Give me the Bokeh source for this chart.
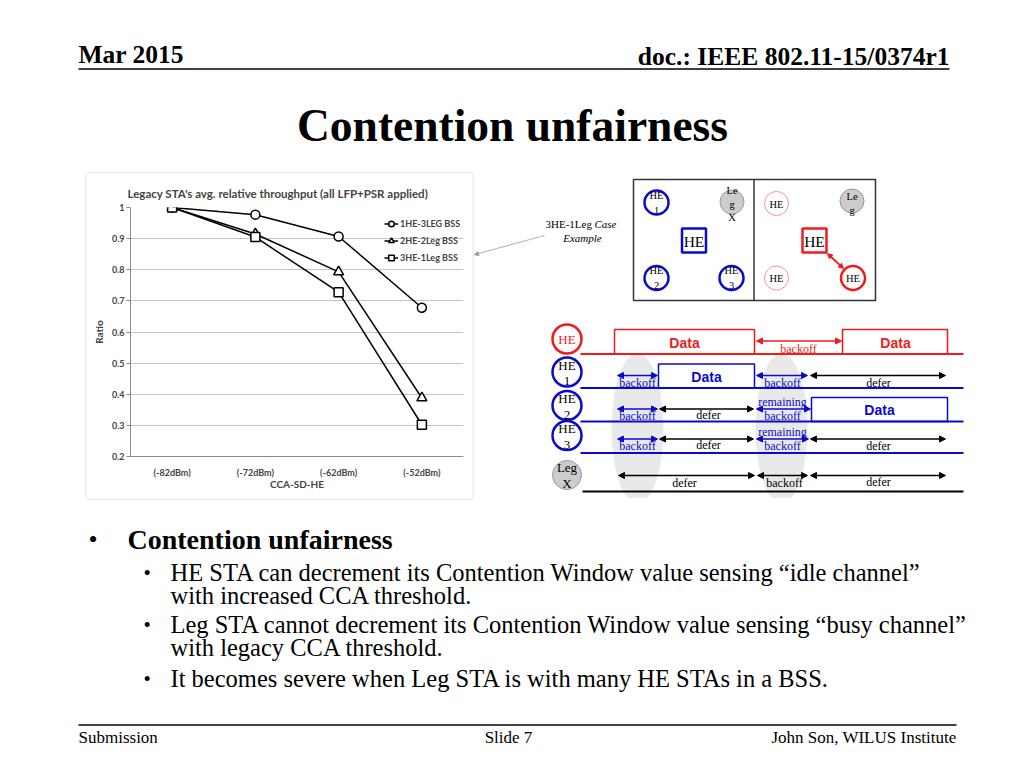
from bokeh.plotting import figure
from bokeh.models import (Range1d, FactorRange, Arrow, NormalHead, Legend, LegendItem,
                          FixedTicker, NumeralTickFormatter, Spacer)
from bokeh.layouts import column, row
from bokeh.embed import file_html
from bokeh.resources import INLINE
from bokeh.core.properties import value

# ---------------- chart data ----------------
categories = ["(-82dBm)", "(-72dBm)", "(-62dBm)", "(-52dBm)"]
series_labels = ["1HE-3LEG BSS", "2HE-2Leg BSS", "3HE-1Leg BSS"]
series_markers = ["circle", "triangle", "square"]
ratio_1he_3leg = [1.0, 0.977, 0.907, 0.678]
ratio_2he_2leg = [1.0, 0.915, 0.793, 0.388]
ratio_3he_1leg = [1.0, 0.905, 0.728, 0.302]
y_ticks = [0.2, 0.3, 0.4, 0.5, 0.6, 0.7, 0.8, 0.9, 1.0]
chart_title = "Legacy STA's avg. relative throughput (all LFP+PSR applied)"
x_title = "CCA-SD-HE"
y_title = "Ratio"

# ---------------- slide texts ----------------
date_text = "Mar 2015"
doc_text = "doc.: IEEE 802.11-15/0374r1"
slide_title = "Contention unfairness"
bullet_main = "Contention unfairness"
sub_lines = [
    "HE STA can decrement its Contention Window value sensing \u201cidle channel\u201d",
    "with increased CCA threshold.",
    "Leg STA cannot decrement its Contention Window value sensing \u201cbusy channel\u201d",
    "with legacy CCA threshold.",
    "It becomes severe when Leg STA is with many HE STAs in a BSS.",
]
footer_texts = ["Submission", "Slide 7", "John Son, WILUS Institute"]

SERIF = "Liberation Serif"
SANS = "Liberation Sans"
CHART_FONT = "Lato"
BLUE = "#0a0acc"
RED = "#ee1c1c"
GRAYBORDER = "#d4d4d4"


def canvas(x0, y0, w, h):
    f = figure(width=w, height=h, x_range=Range1d(x0, x0 + w), y_range=Range1d(y0 + h, y0),
               x_axis_location=None, y_axis_location=None, toolbar_location=None,
               output_backend="svg", min_border=0, outline_line_color=None)
    f.grid.visible = False
    return f


def txt(f, x, y, s, size, color="black", font=SERIF, style="normal", align="left"):
    f.text(x=[x], y=[y], text=[s], text_font=value(font), text_font_size=f"{size}px",
           text_color=color, text_font_style=style, text_align=align, text_baseline="middle")


def seg(f, xs, ys, color="black", width=1.0):
    f.line(xs, ys, line_color=color, line_width=width)


def arrow(f, x0, y0, x1, y1, color, both=True, size=6, width=1.3):
    head = lambda: NormalHead(size=size, fill_color=color, line_color=color, line_width=1)
    f.add_layout(Arrow(start=head() if both else None, end=head(), x_start=x0, y_start=y0,
                       x_end=x1, y_end=y1, line_color=color, line_width=width))


# ---------------- header ----------------
header = canvas(0, 0, 1008, 173)
txt(header, 78, 54, date_text, 25.5, style="bold")
txt(header, 949, 56, doc_text, 25.5, style="bold", align="right")
seg(header, [78, 949], [68.5, 68.5], width=1.5)
txt(header, 512, 125, slide_title, 45.5, style="bold", align="center")
seg(header, [85.5, 472.5], [172.5, 172.5], color=GRAYBORDER)

# ---------------- left spacer ----------------
left = canvas(0, 173, 86, 325)
seg(left, [85.5, 85.5], [172, 498.5], color=GRAYBORDER)

# ---------------- chart ----------------
chart = figure(width=386, height=323, x_range=FactorRange(*categories, range_padding=0),
               y_range=Range1d(0.2, 1.0), output_backend="svg", toolbar_location=None,
               min_border_left=44, min_border_right=9, min_border_top=33, min_border_bottom=41,
               outline_line_color=None)
chart.title.text = chart_title
chart.title.align = "left"
chart.title.offset = -3
chart.title.text_font = CHART_FONT
chart.title.text_font_size = "11.5px"
chart.title.text_font_style = "bold"
chart.title.standoff = 15

chart.xgrid.visible = False
chart.ygrid.grid_line_color = "#c4c4c4"
chart.yaxis.ticker = FixedTicker(ticks=y_ticks)
chart.yaxis.formatter = NumeralTickFormatter(format="0.[0]")
for ax in (chart.xaxis[0], chart.yaxis[0]):
    ax.axis_line_color = "#8a8a8a"
    ax.major_label_text_font = CHART_FONT
    ax.major_label_text_font_size = "9px"
    ax.major_label_text_font_style = "bold"
    ax.axis_label_text_font = CHART_FONT
    ax.axis_label_text_font_size = "10px"
    ax.axis_label_text_font_style = "bold"
    ax.minor_tick_line_color = None
chart.xaxis.major_tick_line_color = None
chart.xaxis.major_label_standoff = 4
chart.xaxis.axis_label = x_title
chart.xaxis.axis_label_standoff = -3
chart.yaxis.major_tick_out = 4
chart.yaxis.major_tick_in = 0
chart.yaxis.major_tick_line_color = "#8a8a8a"
chart.yaxis.major_label_standoff = 2
chart.yaxis.axis_label = y_title
chart.yaxis.axis_label_standoff = 4

items = []
for vals, marker, label in zip([ratio_1he_3leg, ratio_2he_2leg, ratio_3he_1leg], series_markers, series_labels):
    r1 = chart.line(categories, vals, line_color="black", line_width=1.5)
    r2 = chart.scatter(categories, vals, marker=marker, size=9 if marker != "triangle" else 10,
                       fill_color="white", line_color="black", line_width=1.5)
    items.append(LegendItem(label=label, renderers=[r1, r2]))
legend = Legend(items=items, location=(254, 190), padding=2, spacing=0, margin=0,
                glyph_width=14, glyph_height=17, label_height=17, label_standoff=2,
                label_text_font=CHART_FONT, label_text_font_size="9px", label_text_font_style="bold",
                background_fill_alpha=0, border_line_color=None)
chart.add_layout(legend)

chart_col = column(Spacer(width=386, height=1), chart, Spacer(width=386, height=1))

# ---------------- diagrams ----------------
diag = canvas(472, 173, 536, 325)
seg(diag, [472.5, 472.5], [172, 498.5], color=GRAYBORDER)

# case example label + leader
txt(diag, 545, 223, "3HE-1Leg", 11)
txt(diag, 594, 223, "Case", 11, style="italic")
txt(diag, 582, 237, "Example", 11, style="italic", align="center")
seg(diag, [544, 480], [235, 252.5], color="#9a9a9a", width=0.8)
arrow(diag, 480, 252.5, 474, 254.2, "#9a9a9a", both=False, size=4, width=0.8)

# top topology box
diag.quad(left=633, right=875, top=179, bottom=300, fill_color=None, line_color="#333333", line_width=1.5)
seg(diag, [753.5, 753.5], [179, 300], color="#333333", width=1.5)

# left BSS (blue)
for cx, cy in [(656, 202), (656, 277.5), (731, 277.5)]:
    diag.scatter([cx], [cy], marker="circle", size=24, fill_color="white", line_color=BLUE, line_width=2.5)
diag.scatter([731.5], [201.5], marker="circle", size=24, fill_color="#cccccc", line_color="#9a9a9a", line_width=1)
diag.rect([693.5], [240], width=24, height=24, fill_color="white", line_color=BLUE, line_width=2.5)
txt(diag, 693.5, 240.5, "HE", 15.5, align="center")
txt(diag, 656, 195, "HE", 10.5, align="center")
txt(diag, 656, 210, "1", 10.5, align="center")
txt(diag, 656, 270, "HE", 10.5, align="center")
txt(diag, 656, 285, "2", 10.5, align="center")
txt(diag, 731, 270, "HE", 10.5, align="center")
txt(diag, 731, 285, "3", 10.5, align="center")
txt(diag, 731.5, 189.5, "Le", 10.5, align="center")
txt(diag, 731.5, 203.5, "g", 10.5, align="center")
txt(diag, 731.5, 216.5, "X", 10.5, align="center")

# right BSS (red)
for cx, cy in [(776, 203), (776, 277.5)]:
    diag.scatter([cx], [cy], marker="circle", size=24, fill_color="white", line_color="#e89a9a", line_width=1)
    txt(diag, cx, cy + 0.5, "HE", 10.5, align="center")
diag.scatter([852.5], [277.5], marker="circle", size=24, fill_color="white", line_color=RED, line_width=2.5)
txt(diag, 852.5, 278, "HE", 10.5, align="center")
diag.scatter([851.5], [200.5], marker="circle", size=24, fill_color="#cccccc", line_color="#9a9a9a", line_width=1)
txt(diag, 851.5, 196, "Le", 10.5, align="center")
txt(diag, 851.5, 210, "g", 10.5, align="center")
diag.rect([814], [240], width=24, height=24, fill_color="white", line_color=RED, line_width=2.5)
txt(diag, 814, 240.5, "HE", 15.5, align="center")
arrow(diag, 827, 253, 843, 268, RED, size=5, width=1.8)

# ---------------- timeline ----------------
diag.ellipse([637, 781], [428, 428], width=[52, 52], height=[150, 150], fill_color="#e9e9e9", line_color=None)

# baselines
seg(diag, [580, 963], [353.5, 353.5], color=RED, width=2)
seg(diag, [580, 963], [387.5, 387.5], color=BLUE, width=2)
seg(diag, [580, 963], [421, 421], color=BLUE, width=2)
seg(diag, [580, 963], [452.5, 452.5], color=BLUE, width=2)
seg(diag, [582, 963], [491, 491], color="black", width=2)

# data boxes
diag.quad(left=[614, 842], right=[754, 947], top=[329, 329], bottom=[353.5, 353.5], fill_color=None, line_color=RED, line_width=1.5)
diag.quad(left=[658], right=[754], top=[363.5], bottom=[387.5], fill_color=None, line_color=BLUE, line_width=1.5)
diag.quad(left=[811], right=[947], top=[397], bottom=[421], fill_color=None, line_color=BLUE, line_width=1.5)
txt(diag, 684, 342, "Data", 14, color=RED, font=SANS, style="bold", align="center")
txt(diag, 895, 342, "Data", 14, color=RED, font=SANS, style="bold", align="center")
txt(diag, 706, 376, "Data", 14, color=BLUE, font=SANS, style="bold", align="center")
txt(diag, 879, 409.5, "Data", 14, color=BLUE, font=SANS, style="bold", align="center")

# red row
arrow(diag, 756, 340.5, 841, 340.5, RED)
txt(diag, 798, 348, "backoff", 12, color=RED, align="center")
# HE1 row
arrow(diag, 617, 375, 657, 375, BLUE)
arrow(diag, 756, 375, 807, 375, BLUE)
arrow(diag, 810, 375, 945, 375, "black")
txt(diag, 637, 382, "backoff", 12, color=BLUE, align="center")
txt(diag, 782, 382, "backoff", 12, color=BLUE, align="center")
txt(diag, 878, 382, "defer", 12, align="center")
# HE2 row
arrow(diag, 617, 408.5, 657, 408.5, BLUE)
arrow(diag, 659, 408.5, 753, 408.5, "black")
arrow(diag, 756, 408.5, 810, 408.5, BLUE)
txt(diag, 637, 415, "backoff", 12, color=BLUE, align="center")
txt(diag, 708, 414.5, "defer", 12, align="center")
txt(diag, 782, 401, "remaining", 12, color=BLUE, align="center")
txt(diag, 782, 415, "backoff", 12, color=BLUE, align="center")
# HE3 row
arrow(diag, 617, 438.5, 657, 438.5, BLUE)
arrow(diag, 659, 438.5, 753, 438.5, "black")
arrow(diag, 756, 438.5, 808, 438.5, BLUE)
arrow(diag, 810, 438.5, 945, 438.5, "black")
txt(diag, 637, 445, "backoff", 12, color=BLUE, align="center")
txt(diag, 708, 444.5, "defer", 12, align="center")
txt(diag, 782, 431.5, "remaining", 12, color=BLUE, align="center")
txt(diag, 782, 445, "backoff", 12, color=BLUE, align="center")
txt(diag, 878, 445, "defer", 12, align="center")
# Leg X row
arrow(diag, 618, 475, 754, 475, "black")
arrow(diag, 757, 475, 807, 475, "black")
arrow(diag, 810, 475, 945, 475, "black")
txt(diag, 684, 482, "defer", 12, align="center")
txt(diag, 784, 482, "backoff", 12, align="center")
txt(diag, 878, 481.5, "defer", 12, align="center")

# row station circles
diag.scatter([566.5], [338.5], marker="circle", size=29, fill_color="white", line_color=RED, line_width=2.5)
txt(diag, 566.5, 339, "HE", 13, color=RED, align="center")
for cy, num in [(371.5, "1"), (405, "2"), (435, "3")]:
    diag.scatter([566.5], [cy], marker="circle", size=29, fill_color="white", line_color=BLUE, line_width=2.5)
    txt(diag, 566.5, cy - 7, "HE", 13, align="center")
    txt(diag, 566.5, cy + 9, num, 13, align="center")
diag.scatter([566.5], [474.5], marker="circle", size=29, fill_color="#cccccc", line_color="#9a9a9a", line_width=1)
txt(diag, 566.5, 467, "Leg", 13, align="center")
txt(diag, 566.5, 483, "X", 13, align="center")

# ---------------- bottom ----------------
bottom = canvas(0, 498, 1008, 254)
seg(bottom, [85.5, 472.5], [498.5, 498.5], color=GRAYBORDER)
txt(bottom, 88, 539, "\u2022", 26)
txt(bottom, 127, 539, bullet_main, 28, style="bold")
sub_centers = [572, 595, 624, 647, 678]
for i, (s, yc) in enumerate(zip(sub_lines, sub_centers)):
    if i in (0, 2, 4):
        txt(bottom, 143, yc, "\u2022", 21)
    txt(bottom, 170, yc, s, 24.5)
seg(bottom, [78, 956], [724.5, 724.5], width=1.5)
txt(bottom, 78, 737, footer_texts[0], 17)
txt(bottom, 508, 737, footer_texts[1], 17, align="center")
txt(bottom, 956, 737, footer_texts[2], 17, align="right")

layout = column(header, row(left, chart_col, diag), bottom)
open("out.html", "w").write(file_html(layout, INLINE))
